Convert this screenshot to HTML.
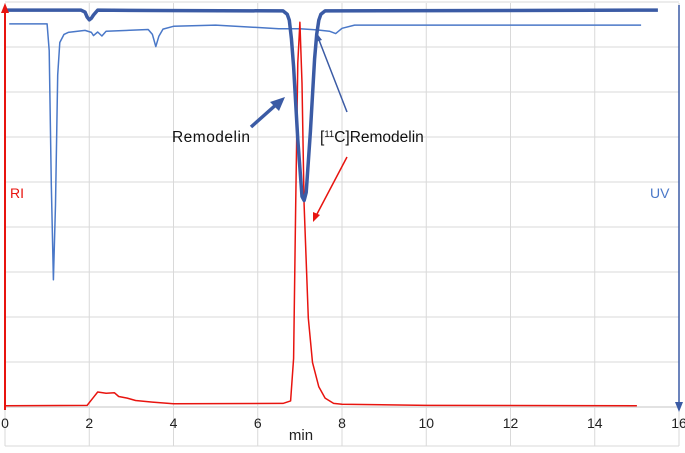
<!DOCTYPE html>
<html><head><meta charset="utf-8"><style>
html,body{margin:0;padding:0;background:#fff;width:685px;height:453px;overflow:hidden}
text{font-family:"Liberation Sans",Arial,sans-serif}
</style></head><body>
<svg id="chart" width="685" height="453" viewBox="0 0 685 453" xmlns="http://www.w3.org/2000/svg">
<g id="grid"></g>
<g id="series"></g>
<g id="axes"></g>
<g id="ann"></g>
</svg>
<script>
const xTicks=[0,2,4,6,8,10,12,14,16];
const uvThickT=[0,1.8,1.9,1.95,2.0,2.05,2.1,2.2,3.5,6.6,6.7,6.75,6.8,6.85,6.95,7.05,7.1,7.15,7.25,7.35,7.4,7.45,7.5,7.6,15.5];
const uvThickV=[98,98,97.5,96.3,95.6,96,96.8,98,97.9,97.8,97,95.5,91,84,66,52,51,53,68,86,92,95.5,97,97.8,98];
const uvThinT=[0.1,1.0,1.05,1.1,1.15,1.2,1.25,1.3,1.4,1.5,1.9,2.05,2.1,2.2,2.3,2.4,3.4,3.5,3.58,3.65,3.75,4.0,5,6.5,7.0,7.4,7.7,7.85,8.0,8.3,15.1];
const uvThinV=[94.6,94.6,88,55,31.4,50,82,90,92,92.5,93,92.5,91.7,92.6,91.6,92.8,93.2,92,89,91.5,93.3,94,94.3,93.4,93.4,93.1,92.8,92.2,93.5,94.3,94.3];
const riT=[0,1.95,2.1,2.2,2.4,2.6,2.7,2.9,3.1,3.5,4.0,6.6,6.78,6.85,6.9,6.95,7.0,7.05,7.1,7.2,7.3,7.45,7.6,7.8,8.0,10,15];
const riV=[0.3,0.4,2.4,3.7,3.4,3.5,2.6,2.2,1.6,1.2,0.8,0.9,1.5,12,50,85,95,80,50,22,11,5,2.2,0.9,0.7,0.4,0.3];
const xS=t=>5+t*(674/16);
const yS=v=>407-v*4.05;
const NS='http://www.w3.org/2000/svg';
function mk(tag,parent,attrs){const e=document.createElementNS(NS,tag);for(const k in attrs)e.setAttribute(k,attrs[k]);parent.appendChild(e);return e;}
const grid=document.getElementById('grid'),series=document.getElementById('series'),axes=document.getElementById('axes');
for(let i=1;i<=9;i++){const y=407-45*i;
 const l=mk('line',grid,{x1:5,x2:679,y1:y,y2:y,stroke:'#d9d9d9','stroke-width':1});
 
 }
{const l=mk('line',grid,{x1:5,x2:679,y1:446,y2:446,stroke:'#d9d9d9','stroke-width':1});
 
 }
xTicks.forEach(t=>{
 const l=mk('line',grid,{x1:xS(t),x2:xS(t),y1:3,y2:446,stroke:'#d9d9d9','stroke-width':1});
 
 
 const tx=mk('text',axes,{x:xS(t),y:428,'text-anchor':'middle','font-size':14,fill:'#222'});
 tx.textContent=t;
 
 
});
{const l=mk('line',grid,{x1:5,x2:679,y1:407,y2:407,stroke:'#d9d9d9','stroke-width':1.5});
 
 }
function path(T,V,color,w,name){
 const d=T.map((t,i)=>(i?'L':'M')+xS(t).toFixed(1)+','+yS(V[i]).toFixed(1)).join('');
 const p=mk('path',series,{d:d,fill:'none',stroke:color,'stroke-width':w,'stroke-linejoin':'round'});
 
 
}
path(uvThinT,uvThinV,'#4a78c8',1.5,'uv-thin-trace');
path(riT,riV,'#e8140f',1.5,'ri-trace');
path(uvThickT,uvThickV,'#3b5ba5',3.5,'uv-thick-trace');
mk('line',axes,{x1:5,y1:410,x2:5,y2:12,stroke:'#e8140f','stroke-width':2});
mk('polygon',axes,{points:'5,3 1,13 9,13',fill:'#e8140f'});
mk('line',axes,{x1:679,y1:5,x2:679,y2:402,stroke:'#3b5ba5','stroke-width':1.5});
mk('polygon',axes,{points:'679,412 675,402 683,402',fill:'#3b5ba5'});
</script>
<svg style="position:absolute;left:0;top:0" width="685" height="453">
<text x="10" y="198" font-size="14" fill="#e8140f">RI</text>
<text x="650" y="198" font-size="14" fill="#4a78c8">UV</text>
<text x="301" y="440" font-size="15" fill="#222" text-anchor="middle">min</text>
<text x="172" y="142" font-size="15.5" fill="#111" textLength="78">Remodelin</text>
<text x="320" y="142" font-size="15.5" fill="#111">[<tspan font-size="9.5" dy="-5">11</tspan><tspan dy="5">C]Remodelin</tspan></text>
<line x1="251" y1="127" x2="278" y2="103" stroke="#3b5ba5" stroke-width="3.5"/>
<polygon points="285,97 270,102 279,111" fill="#3b5ba5"/>
<line x1="347" y1="112" x2="319" y2="40" stroke="#3b5ba5" stroke-width="1.5"/>
<polygon points="316,32 315,42 322,40" fill="#3b5ba5"/>
<line x1="347" y1="157" x2="317" y2="214" stroke="#e8140f" stroke-width="1.5"/>
<polygon points="313,222 313,212 320,215" fill="#e8140f"/>
</svg>
</body></html>
